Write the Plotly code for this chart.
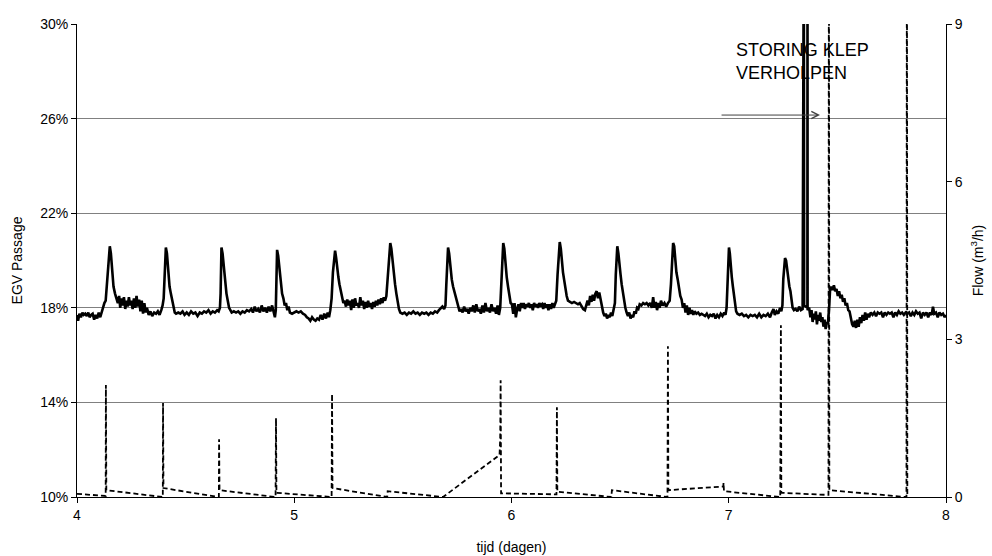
import plotly.graph_objects as go

# ---------------- data ----------------
# EGV passage (%), left axis
egv_t = [
    4.000, 4.005, 4.011, 4.018, 4.025, 4.031, 4.038, 4.045, 4.052, 4.058, 4.065, 4.072, 4.079, 4.086, 4.093, 4.100, 4.107, 4.114, 4.120, 4.126,
    4.132, 4.140, 4.146, 4.151, 4.156, 4.162, 4.168, 4.175, 4.182,
    4.188, 4.194, 4.199, 4.205, 4.211, 4.216, 4.222, 4.228, 4.233, 4.239, 4.245, 4.250, 4.256, 4.262, 4.268, 4.274, 4.280, 4.286, 4.292, 4.298, 4.304, 4.310, 4.316, 4.322,
    4.330, 4.338, 4.346, 4.355, 4.364, 4.372, 4.380, 4.388, 4.394,
    4.399, 4.404, 4.409, 4.414, 4.420, 4.426, 4.432, 4.438, 4.444, 4.450, 4.456,
    4.466, 4.476, 4.486, 4.495, 4.505, 4.515, 4.525, 4.535, 4.545, 4.555, 4.565, 4.575, 4.585, 4.595, 4.605, 4.615, 4.625, 4.635, 4.645, 4.652, 4.658,
    4.661, 4.665, 4.670, 4.676, 4.682, 4.688, 4.694, 4.700, 4.706, 4.712,
    4.722, 4.732, 4.742, 4.752, 4.762, 4.772, 4.782, 4.792, 4.802, 4.810, 4.818, 4.826, 4.834, 4.842, 4.850, 4.858, 4.866, 4.874, 4.882, 4.890, 4.898, 4.905, 4.911, 4.915,
    4.918, 4.921, 4.926, 4.932, 4.938, 4.944, 4.950, 4.956, 4.962, 4.968, 4.974, 4.980,
    4.990, 5.000, 5.010, 5.020, 5.030, 5.040, 5.050, 5.058, 5.066, 5.074, 5.082, 5.090, 5.098, 5.106, 5.114, 5.122, 5.130, 5.138, 5.146, 5.154, 5.160, 5.166,
    5.172, 5.178, 5.184, 5.188, 5.193, 5.198, 5.203, 5.208, 5.214, 5.220, 5.226,
    5.232, 5.238, 5.244, 5.250, 5.256, 5.262, 5.268, 5.274, 5.280, 5.286, 5.292, 5.298, 5.304, 5.310, 5.316, 5.322, 5.328, 5.334, 5.340, 5.346, 5.352, 5.358, 5.364, 5.370, 5.376, 5.382, 5.388, 5.394, 5.400, 5.406, 5.412, 5.418,
    5.424, 5.432, 5.438, 5.442, 5.447, 5.452, 5.458, 5.464, 5.470, 5.476, 5.482, 5.488,
    5.498, 5.508, 5.518, 5.528, 5.538, 5.548, 5.558, 5.568, 5.578, 5.588, 5.598, 5.608, 5.618, 5.628, 5.638, 5.648, 5.658, 5.666, 5.674, 5.682, 5.690, 5.696,
    5.700, 5.704, 5.708, 5.713, 5.719, 5.725, 5.731, 5.737, 5.743, 5.749, 5.755, 5.761,
    5.768, 5.775, 5.782, 5.789, 5.796, 5.803, 5.810, 5.817, 5.824, 5.831, 5.838, 5.845, 5.852, 5.859, 5.866, 5.873, 5.880, 5.887, 5.894, 5.901, 5.908, 5.915, 5.922, 5.929, 5.936, 5.942, 5.948,
    5.953, 5.958, 5.962, 5.967, 5.972, 5.978, 5.984, 5.990, 5.996,
    6.002, 6.008, 6.014, 6.020, 6.026, 6.032, 6.038, 6.044, 6.050, 6.056, 6.062, 6.068, 6.074, 6.080, 6.086, 6.092, 6.098, 6.104, 6.110, 6.116, 6.122, 6.128, 6.134, 6.140, 6.146, 6.152, 6.158, 6.164, 6.170, 6.176, 6.182, 6.188, 6.194, 6.200,
    6.206, 6.212, 6.218, 6.222, 6.227, 6.232, 6.237, 6.242, 6.248, 6.254, 6.260,
    6.268, 6.278, 6.288, 6.298, 6.306, 6.314, 6.322, 6.330, 6.338, 6.344, 6.350, 6.356, 6.362, 6.368, 6.374, 6.380, 6.386, 6.392, 6.398, 6.404, 6.410, 6.416, 6.422, 6.428, 6.434, 6.440, 6.446, 6.452, 6.458, 6.464, 6.470, 6.476,
    6.480, 6.484, 6.487, 6.492, 6.497, 6.502, 6.507, 6.512, 6.518, 6.524, 6.530,
    6.536, 6.542, 6.548, 6.554, 6.560, 6.566, 6.572, 6.578, 6.584, 6.590, 6.598, 6.606, 6.614, 6.622, 6.630, 6.638, 6.646, 6.652, 6.658, 6.664, 6.670, 6.676, 6.682, 6.688,
    6.696, 6.704, 6.712, 6.720, 6.728, 6.734, 6.739, 6.744, 6.749, 6.754, 6.759, 6.765, 6.771, 6.777, 6.783, 6.789,
    6.795, 6.801, 6.807, 6.813, 6.819, 6.825, 6.831, 6.837, 6.843, 6.851, 6.859, 6.867, 6.875, 6.883, 6.891, 6.899, 6.907, 6.915, 6.923, 6.931, 6.939, 6.947, 6.955, 6.963, 6.971, 6.979, 6.985, 6.990,
    6.994, 6.998, 7.001, 7.005, 7.009, 7.014, 7.019, 7.024, 7.029, 7.034, 7.040,
    7.050, 7.060, 7.070, 7.080, 7.090, 7.100, 7.110, 7.120, 7.130, 7.140, 7.150, 7.160, 7.170, 7.180, 7.190, 7.198, 7.206, 7.212, 7.220, 7.228, 7.236, 7.242, 7.247,
    7.251, 7.255, 7.259, 7.264, 7.269, 7.274, 7.279, 7.284, 7.289, 7.294, 7.300, 7.308, 7.316, 7.324, 7.332, 7.340,
    7.3455, 7.3460, 7.3470, 7.3620, 7.3625, 7.3630,
    7.370, 7.376, 7.381, 7.386, 7.391, 7.396, 7.401, 7.406, 7.411, 7.416, 7.421, 7.426, 7.431, 7.436, 7.441, 7.446, 7.451, 7.456, 7.462,
    7.466, 7.472, 7.478, 7.484, 7.490, 7.496, 7.502, 7.508, 7.514, 7.520, 7.526, 7.532, 7.538, 7.544, 7.550, 7.556, 7.562, 7.568, 7.574, 7.580, 7.586, 7.592, 7.598, 7.604, 7.610, 7.616, 7.622, 7.628, 7.634, 7.640, 7.646,
    7.654, 7.662, 7.670, 7.678, 7.686, 7.694, 7.702, 7.710, 7.718, 7.726, 7.734, 7.742, 7.750, 7.758, 7.766, 7.774, 7.782, 7.790, 7.798, 7.806, 7.814, 7.822, 7.830, 7.838, 7.846, 7.854, 7.862, 7.870, 7.878, 7.886, 7.894, 7.902, 7.910, 7.918, 7.926, 7.934, 7.940, 7.946, 7.954, 7.962, 7.970, 7.978, 7.986, 7.994, 7.999,
]
egv_v = [
    17.7, 17.45, 17.75, 17.6, 17.8, 17.7, 17.75, 17.65, 17.8, 17.6, 17.7, 17.75, 17.5, 17.7, 17.55, 17.8, 17.6, 17.85, 17.95, 18.2,
    18.3, 19.2, 20.2, 20.6, 20.3, 19.4, 18.9, 18.6, 18.4,
    18.2, 18.5, 18.0, 18.4, 18.1, 18.45, 17.95, 18.3, 18.05, 18.45, 18.1, 18.3, 17.95, 18.4, 18.0, 18.5, 18.05, 18.35, 17.85, 18.3, 17.75, 18.2, 17.8, 18.0,
    17.7, 17.85, 17.65, 17.8, 17.75, 17.85, 17.7, 17.9, 18.1,
    18.4, 19.6, 20.55, 20.3, 19.5, 18.9, 18.6, 18.3, 18.1, 17.8, 17.75,
    17.8, 17.75, 17.85, 17.7, 17.8, 17.7, 17.85, 17.75, 17.8, 17.65, 17.8, 17.75, 17.85, 17.8, 17.9, 17.75, 17.85, 17.8, 17.9, 17.85, 18.0,
    18.6, 20.55, 20.3, 19.6, 19.0, 18.6, 18.3, 18.0, 17.9, 17.8,
    17.85, 17.8, 17.85, 17.75, 17.85, 17.8, 17.9, 17.85, 17.95, 17.8, 18.05, 17.85, 17.95, 17.8, 18.1, 17.85, 18.0, 17.8, 18.05, 17.85, 18.1, 17.85, 17.6, 17.9,
    18.8, 20.45, 20.2, 19.6, 19.0, 18.6, 18.4, 18.1, 18.2, 17.9, 18.05, 17.8,
    17.75, 17.8, 17.85, 17.8, 17.85, 17.75, 17.7, 17.6, 17.55, 17.45, 17.6, 17.5, 17.45, 17.55, 17.5, 17.7, 17.5, 17.75, 17.55, 17.8, 17.6, 17.9,
    18.4, 19.5, 20.3, 20.42, 20.1, 19.5, 19.3, 19.0, 18.7, 18.35, 18.2,
    18.3, 18.05, 18.35, 18.1, 18.3, 17.9, 18.35, 18.0, 18.4, 18.1, 18.2, 18.0, 18.45, 18.1, 18.3, 17.95, 18.25, 18.0, 18.3, 18.05, 18.2, 17.95, 18.25, 18.05, 18.3, 18.1, 18.35, 18.15, 18.4, 18.2, 18.45, 18.3,
    18.5, 19.6, 20.4, 20.74, 20.5, 20.0, 19.6, 19.0, 18.6, 18.2, 17.95, 17.8,
    17.75, 17.8, 17.7, 17.8, 17.75, 17.85, 17.75, 17.8, 17.7, 17.8, 17.75, 17.8, 17.7, 17.8, 17.75, 17.85, 17.8, 17.9, 18.0, 18.05, 17.95, 18.1,
    19.0, 20.2, 20.55, 20.3, 19.6, 19.2, 18.9, 18.7, 18.5, 18.2, 18.0, 17.85,
    17.95, 17.8, 18.05, 17.85, 17.95, 17.75, 18.0, 17.85, 18.1, 17.8, 18.15, 17.85, 17.95, 17.75, 18.1, 17.8, 18.2, 17.85, 18.0, 17.8, 18.15, 17.85, 18.0, 17.75, 18.1, 17.7, 18.0,
    19.2, 20.3, 20.74, 20.5, 19.8, 19.3, 18.9, 18.5, 18.2,
    18.15, 17.75, 18.2, 17.6, 17.95, 18.15, 17.85, 18.2, 18.0, 18.2, 17.95, 18.15, 18.05, 18.2, 18.0, 18.15, 17.9, 18.2, 18.05, 18.15, 18.0, 18.2, 18.1, 18.15, 17.95, 18.2, 18.0, 18.15, 17.9, 18.15, 17.95, 18.2, 18.0, 18.2,
    18.3, 19.4, 20.4, 20.78, 20.5, 19.8, 19.5, 19.2, 18.8, 18.5, 18.3,
    18.25, 18.2, 18.25, 18.2, 18.15, 18.2, 18.05, 17.95, 17.9, 18.1, 18.3, 18.1, 18.5, 18.25, 18.55, 18.3, 18.6, 18.7, 18.4, 18.65, 18.3, 18.1, 17.8, 17.65, 17.75, 17.55, 17.7, 17.6, 17.8, 17.65, 17.9, 18.2,
    19.4, 20.3, 20.6, 20.3, 19.7, 19.4, 19.0, 18.7, 18.3, 18.0, 17.8,
    17.65, 17.8, 17.55, 17.7, 17.6, 17.85, 17.75, 18.0, 17.95, 18.15, 18.1, 18.2, 18.15, 18.2, 18.1, 18.2, 18.0, 18.45, 18.0, 18.25, 17.9, 18.2, 18.0, 18.3,
    18.1, 18.2, 18.05, 18.2, 18.3, 19.0, 20.0, 20.74, 20.6, 20.0, 19.5, 19.2, 18.8, 18.5, 18.35, 18.0,
    18.2, 17.8, 18.1, 17.7, 18.0, 17.75, 17.9, 17.7, 17.85, 17.75, 17.8, 17.7, 17.75, 17.7, 17.65, 17.75, 17.6, 17.7, 17.65, 17.75, 17.55, 17.7, 17.6, 17.75, 17.65, 17.8, 17.7, 18.0,
    19.2, 20.3, 20.55, 20.3, 19.7, 19.3, 18.9, 18.5, 18.3, 17.85, 17.75,
    17.7, 17.75, 17.65, 17.7, 17.6, 17.7, 17.65, 17.7, 17.6, 17.75, 17.6, 17.7, 17.65, 17.75, 17.6, 17.8, 17.95, 17.7, 17.85, 17.75, 18.0, 17.85, 18.1,
    19.2, 19.9, 20.1, 20.0, 19.6, 19.2, 18.9, 18.7, 18.2, 18.0, 17.9, 17.95, 17.85, 18.05, 17.9, 17.95,
    34.0, 34.0, 18.1, 18.0, 34.0, 17.9,
    18.0, 17.6, 17.9, 17.4, 17.75, 17.5, 17.85, 17.3, 17.7, 17.45, 17.8, 17.4, 17.6, 17.2, 17.5, 17.1, 17.4, 17.3, 18.0,
    18.7, 18.9, 18.75, 18.95, 18.7, 18.8, 18.5, 18.7, 18.4, 18.55, 18.25, 18.4, 18.1, 18.2, 17.9, 17.85, 17.5, 17.3, 17.2, 17.45, 17.15, 17.5, 17.2, 17.6, 17.35, 17.7, 17.45, 17.8, 17.5, 17.75, 17.6,
    17.8, 17.7, 17.8, 17.65, 17.8, 17.75, 17.8, 17.6, 17.8, 17.7, 17.8, 17.75, 17.8, 17.6, 17.8, 17.7, 17.85, 17.75, 17.8, 17.7, 17.8, 17.75, 17.8, 17.65, 17.8, 17.7, 17.85, 17.75, 17.8, 17.55, 17.8, 17.7, 17.8, 17.6, 17.8, 17.7, 18.05, 17.75, 17.8, 17.6, 17.8, 17.7, 17.75, 17.6, 17.7,
]

# Flow (m3/h), right axis
flow_t = [
    4.000, 4.120, 4.132, 4.133, 4.135,
    4.393, 4.395, 4.396, 4.398,
    4.651, 4.653, 4.654, 4.656,
    4.912, 4.914, 4.916, 4.918,
    5.170, 5.172, 5.174, 5.176,
    5.428, 5.430,
    5.685, 5.945, 5.948, 5.950, 5.952, 5.954,
    6.205, 6.207, 6.209, 6.211,
    6.460, 6.462,
    6.716, 6.718, 6.720, 6.722,
    6.975, 6.976, 6.978,
    7.234, 7.237, 7.240, 7.242,
    7.456, 7.459, 7.461, 7.463,
    7.815, 7.818, 7.820, 7.822,
]
flow_v = [
    0.06, 0.02, 0.02, 2.13, 0.13,
    0.0, 0.0, 1.79, 0.17,
    0.0, 0.0, 1.10, 0.13,
    0.0, 0.0, 1.50, 0.08,
    0.0, 0.0, 1.96, 0.17,
    0.0, 0.11,
    0.0, 0.80, 1.12, 2.22, 0.07, 0.07,
    0.05, 0.05, 1.71, 0.10,
    0.0, 0.13,
    0.0, 0.0, 2.87, 0.13,
    0.20, 0.27, 0.11,
    0.0, 0.0, 3.27, 0.08,
    0.04, 0.04, 12.0, 0.13,
    0.0, 0.0, 12.0, 0.0,
]

x_ticks = [4, 5, 6, 7, 8]
y_ticks = [10, 14, 18, 22, 26, 30]
y_tick_labels = ["10%", "14%", "18%", "22%", "26%", "30%"]
y2_ticks = [0, 3, 6, 9]

FONT = "Liberation Sans, Arial, sans-serif"

fig = go.Figure()
fig.add_trace(go.Scatter(
    x=flow_t, y=flow_v, yaxis="y2", mode="lines",
    line=dict(color="black", width=1.8, dash="5px,3px"),
    hoverinfo="skip", showlegend=False,
))
fig.add_trace(go.Scatter(
    x=egv_t, y=egv_v, mode="lines",
    line=dict(color="black", width=2.6),
    hoverinfo="skip", showlegend=False,
))

fig.update_layout(
    width=992, height=556,
    margin=dict(l=77, r=46, t=24, b=59),
    paper_bgcolor="white", plot_bgcolor="white",
    font=dict(family=FONT, size=14, color="black"),
    showlegend=False,
    xaxis=dict(
        range=[4, 8], tickvals=x_ticks, ticks="outside", ticklen=5, tickcolor="black",
        showline=True, linecolor="black", linewidth=1, showgrid=False, zeroline=False,
        automargin=False,
        title=dict(text="tijd (dagen)", font=dict(size=14), standoff=20),
        tickfont=dict(size=14),
    ),
    yaxis=dict(
        range=[10, 30], tickvals=y_ticks, ticktext=y_tick_labels, ticks="outside", ticklen=5,
        tickcolor="black", showline=True, linecolor="black", linewidth=1,
        showgrid=True, gridcolor="#808080", gridwidth=1, zeroline=False,
        automargin=False,
        title=dict(text="EGV Passage", font=dict(size=14), standoff=14),
        tickfont=dict(size=14),
    ),
    yaxis2=dict(
        range=[0, 9], tickvals=y2_ticks, overlaying="y", side="right", ticks="outside",
        ticklen=5, tickcolor="black", showline=True, linecolor="black", linewidth=1,
        showgrid=False, zeroline=False, automargin=False,
        title=dict(text="Flow (m<sup>3</sup>/h)", font=dict(size=14), standoff=11),
        tickfont=dict(size=14),
    ),
    annotations=[
        dict(x=7.025, y=29.4, xref="x", yref="y", xanchor="left", yanchor="top",
             text="STORING KLEP<br>VERHOLPEN", showarrow=False, align="left",
             font=dict(size=18, color="black")),
        dict(x=7.42, y=26.15, xref="x", yref="y", ax=6.96, ay=26.15, axref="x", ayref="y",
             text="", showarrow=True, arrowhead=5, arrowsize=1.4, arrowwidth=1,
             arrowcolor="#404040"),
    ],
)

fig.write_html("out.html", config={"displayModeBar": False})
